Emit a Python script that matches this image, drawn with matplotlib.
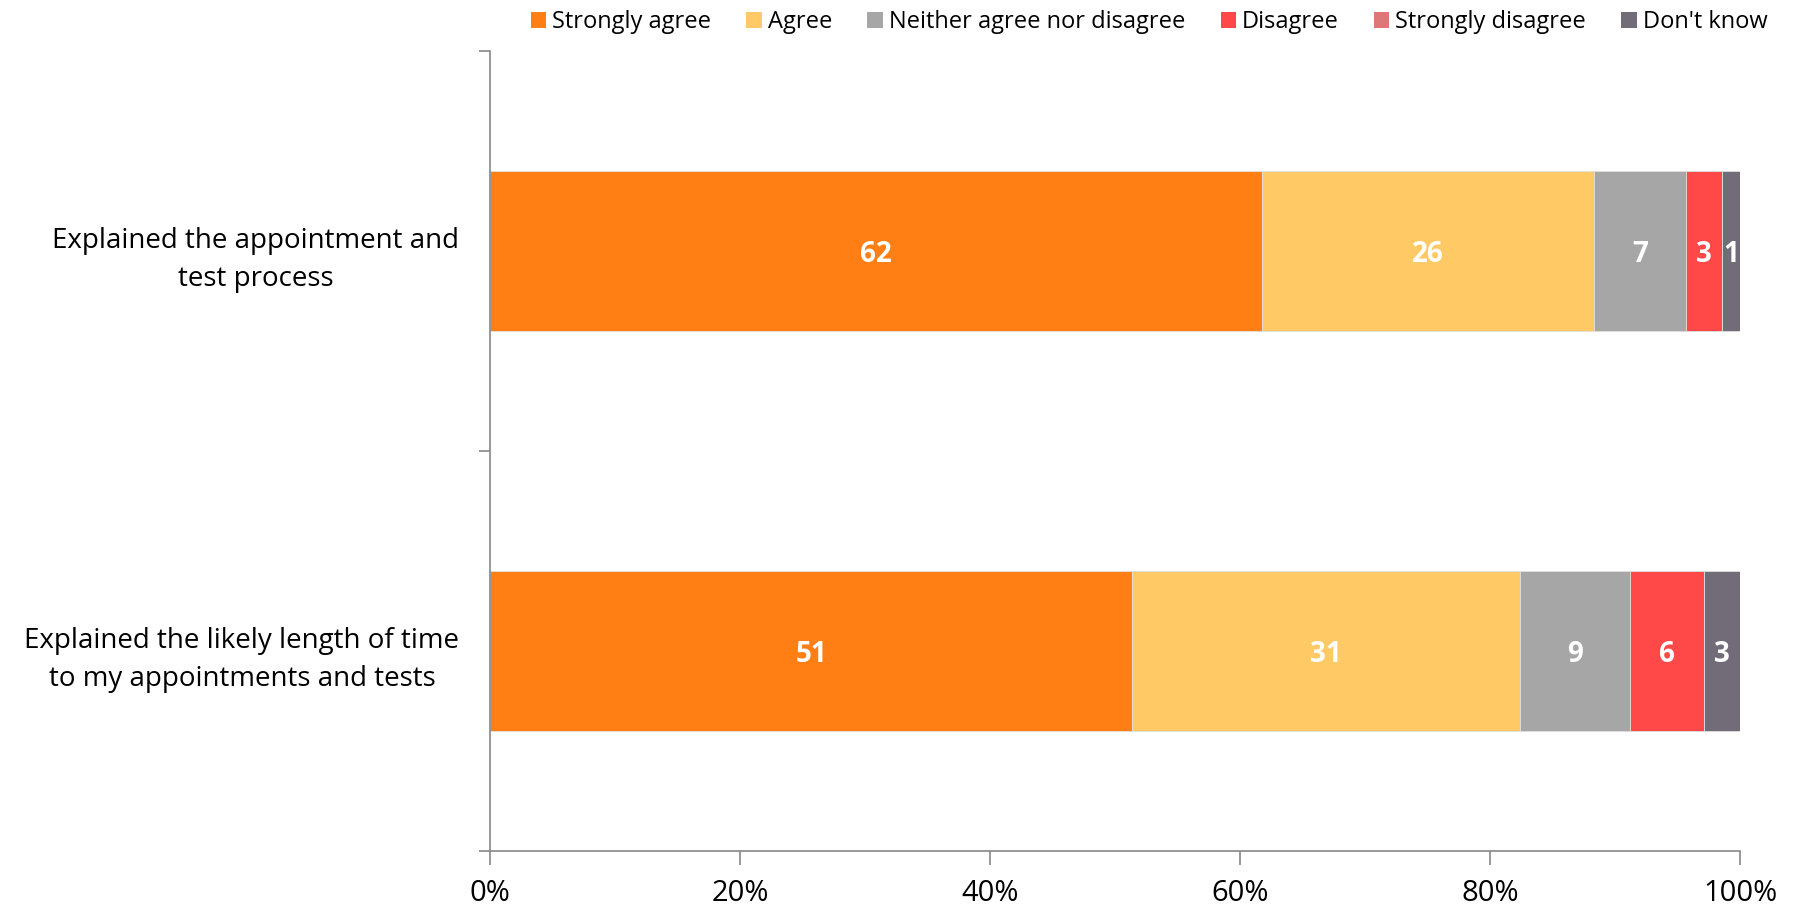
import matplotlib
matplotlib.use("Agg")
import matplotlib.pyplot as plt
from matplotlib.patches import Patch
from matplotlib.transforms import ScaledTranslation

plt.rcParams['font.family'] = ['Open Sans', 'DejaVu Sans']

# statements, top to bottom
statements = [
    "Explained the appointment and\ntest process",
    "Explained the likely length of time\nto my appointments and tests",
]

responses = ["Strongly agree", "Agree", "Neither agree nor disagree",
             "Disagree", "Strongly disagree", "Don't know"]
colors = ["#FF7F14", "#FFCA66", "#A6A6A6", "#FF4848", "#DE7878", "#726C78"]

# percentages per response, one value per statement
strongly_agree = [61.8, 51.4]
agree = [26.5, 31.0]
neither = [7.4, 8.8]
disagree = [2.9, 5.9]
strongly_disagree = [0.0, 0.0]
dont_know = [1.4, 2.9]

series = [strongly_agree, agree, neither, disagree, strongly_disagree, dont_know]

fig = plt.figure(figsize=(17.94, 9.06), dpi=100)
ax = fig.add_axes([0.2731, 0.0607, 0.6968, 0.8825])

ypos = list(range(len(statements)))
left = [0.0] * len(statements)
for vals, col in zip(series, colors):
    ax.barh(ypos, vals, left=left, height=0.4, color=col,
            edgecolor="#E0E0E0", linewidth=0.6)
    for y, v, l in zip(ypos, vals, left):
        if v > 0:
            ax.text(l + v / 2, y, f"{round(v)}", ha="center", va="center_baseline",
                    color="white", fontsize=20, fontweight="bold")
    left = [a + b for a, b in zip(left, vals)]

ax.set_xlim(0, 100)
ax.set_ylim(1.5, -0.5)
ax.set_xticks([0, 20, 40, 60, 80, 100])
ax.set_xticklabels(["0%", "20%", "40%", "60%", "80%", "100%"], fontsize=21)
ax.set_yticks(ypos)
ax.set_yticklabels(statements, fontsize=20, ha="right", multialignment="center",
                   linespacing=1.5, va="center_baseline")
# nudge the statement labels up a little
shift = ScaledTranslation(0, 4 / 72, fig.dpi_scale_trans)
for lab in ax.get_yticklabels():
    lab.set_transform(lab.get_transform() + shift)
ax.tick_params(axis="y", length=0, pad=22)
ax.set_yticks([-0.5, 0.5, 1.5], minor=True)
ax.tick_params(axis="y", which="minor", length=8, color="#888888", width=1.2)
ax.tick_params(axis="x", length=10, color="#888888", width=1.2, pad=10)

for s in ["top", "right"]:
    ax.spines[s].set_visible(False)
for s in ["left", "bottom"]:
    ax.spines[s].set_color("#888888")
    ax.spines[s].set_linewidth(1.2)

handles = [Patch(facecolor=c, edgecolor="none") for c in colors]
fig.legend(handles, responses, loc="upper right", bbox_to_anchor=(0.997, 1.012),
           ncol=6, frameon=False, fontsize=17, handlelength=0.65,
           handleheight=0.65, handletextpad=0.25, columnspacing=1.5)

fig.savefig("out.png", dpi=100)
